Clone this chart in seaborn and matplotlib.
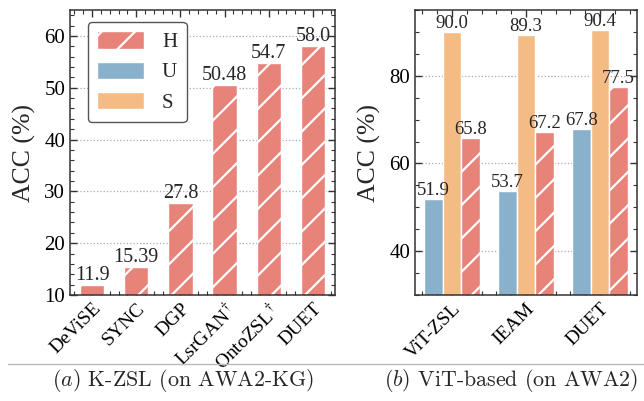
import pandas as pd
import seaborn as sns
import matplotlib.pyplot as plt
from matplotlib.patches import Patch
from matplotlib.lines import Line2D
from matplotlib.ticker import AutoMinorLocator, MultipleLocator

# (a) K-ZSL on AWA2-KG, H only
kzsl_methods = ["DeViSE", "SYNC", "DGP", "LsrGAN$^{\\dagger}$", "OntoZSL$^{\\dagger}$", "DUET"]
kzsl_h = [11.9, 15.39, 27.8, 50.48, 54.7, 58.0]
kzsl_text = ["11.9", "15.39", "27.8", "50.48", "54.7", "58.0"]

# (b) ViT-based on AWA2
vit_methods = ["ViT-ZSL", "IEAM", "DUET"]
vit_u = [51.9, 53.7, 67.8]
vit_s = [90.0, 89.3, 90.4]
vit_h = [65.8, 67.2, 77.5]

metrics = ["U", "S", "H"]
colors = {"H": "#E8837A", "U": "#8AB1CB", "S": "#F4BB84"}

sns.set_theme(style="ticks")
plt.rcParams["font.family"] = ["Liberation Serif", "DejaVu Serif"]
plt.rcParams["mathtext.fontset"] = "cm"
plt.rcParams["hatch.linewidth"] = 1.6


def style_axes(ax, ymin, ymax, major, minor):
    ax.set_ylim(ymin, ymax)
    ax.yaxis.set_major_locator(MultipleLocator(major))
    ax.yaxis.set_minor_locator(MultipleLocator(minor))
    ax.xaxis.set_minor_locator(AutoMinorLocator(5))
    ax.tick_params(which="both", direction="in", top=True, right=True, colors="#333333",
                   labelcolor="black")
    ax.tick_params(which="major", length=5, width=1, labelsize=15)
    ax.tick_params(which="minor", length=3, width=0.8)
    ax.tick_params(axis="x", which="major", labelsize=14)
    for s in ax.spines.values():
        s.set_color("#333333")
        s.set_linewidth(1.1)
    ax.yaxis.grid(True, which="major", linestyle=":", color="#aaaaaa", linewidth=0.9)
    ax.set_axisbelow(True)
    ax.set_xlabel("")
    ax.set_ylabel("ACC (%)", fontsize=18.5, labelpad=6)
    for lab in ax.get_xticklabels():
        lab.set_rotation(45)
        lab.set_ha("right")
        lab.set_rotation_mode("anchor")


fig = plt.figure(figsize=(6.44, 4.01), dpi=100)
ax1 = fig.add_axes([0.1087, 0.2643, 0.4115, 0.7107])
ax2 = fig.add_axes([0.6444, 0.2643, 0.3447, 0.7107])

# left panel
df1 = pd.DataFrame({"method": kzsl_methods, "acc": kzsl_h})
sns.barplot(data=df1, x="method", y="acc", ax=ax1, color=colors["H"], saturation=1,
            width=0.55, edgecolor="white", linewidth=1, hatch="/")
ax1.bar_label(ax1.containers[0], labels=kzsl_text, fontsize=14.5, padding=0)
style_axes(ax1, 10, 65, 10, 2)

# right panel
rows = []
for m, u, s, h in zip(vit_methods, vit_u, vit_s, vit_h):
    rows += [(m, "U", u), (m, "S", s), (m, "H", h)]
df2 = pd.DataFrame(rows, columns=["method", "metric", "acc"])
sns.barplot(data=df2, x="method", y="acc", hue="metric", hue_order=metrics, ax=ax2,
            palette=colors, saturation=1, width=0.75, edgecolor="white", linewidth=1,
            legend=False)
for cont, m in zip(ax2.containers, metrics):
    vals = df2[df2["metric"] == m]["acc"]
    ax2.bar_label(cont, labels=[f"{v:.1f}" for v in vals], fontsize=13.5, padding=0)
    if m == "H":
        for p in cont:
            p.set_hatch("/")
style_axes(ax2, 30, 95, 20, 5)

handles = [Patch(facecolor=colors[k], edgecolor="white", hatch="/" if k == "H" else None, label=k)
           for k in ["H", "U", "S"]]
leg = ax1.legend(handles=handles, loc="upper left", bbox_to_anchor=(0.068, 0.958),
                 borderaxespad=0, fontsize=15, handlelength=2.25, handleheight=0.9,
                 labelspacing=0.45, handletextpad=0.85, borderpad=0.45, fancybox=True,
                 framealpha=1)
leg.get_frame().set_edgecolor("#555555")
leg.get_frame().set_linewidth(1.0)

fig.add_artist(Line2D([0.012, 1.0], [0.092, 0.092], transform=fig.transFigure,
                      color="#bbbbbb", linewidth=1))
fig.text(0.284, 0.05, r"$(a)$ K-ZSL (on AWA2-KG)", ha="center", va="center",
         fontsize=15.8, family="cmr10")
fig.text(0.793, 0.05, r"$(b)$ ViT-based (on AWA2)", ha="center", va="center",
         fontsize=15.8, family="cmr10")

fig.savefig("out.png", dpi=100)
